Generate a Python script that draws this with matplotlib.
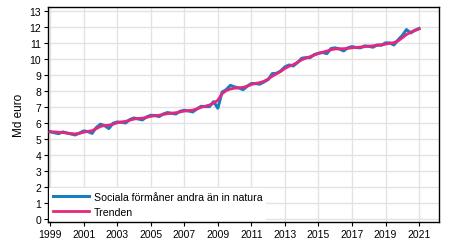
#!/usr/bin/env python3

import numpy as np
from matplotlib import pyplot as plt

plt.rcParams['font.family'] = ['Liberation Sans', 'DejaVu Sans']

# Quarterly values, 1999Q1 - 2021Q1 (Md euro)
first_year = 1999
benefits = [
    5.44, 5.37, 5.31, 5.42,   # 1999
    5.35, 5.29, 5.23, 5.35,   # 2000
    5.48, 5.44, 5.33, 5.69,   # 2001
    5.90, 5.81, 5.63, 5.96,   # 2002
    6.04, 6.02, 5.98, 6.19,   # 2003
    6.29, 6.23, 6.17, 6.35,   # 2004
    6.46, 6.44, 6.38, 6.54,   # 2005
    6.63, 6.58, 6.54, 6.71,   # 2006
    6.77, 6.73, 6.67, 6.85,   # 2007
    7.02, 7.00, 7.00, 7.31,   # 2008
    6.90, 7.90, 8.06, 8.33,   # 2009
    8.23, 8.17, 8.06, 8.27,   # 2010
    8.44, 8.44, 8.40, 8.54,   # 2011
    8.69, 9.06, 9.08, 9.23,   # 2012
    9.48, 9.60, 9.54, 9.75,   # 2013
    10.02, 10.06, 10.06, 10.25,  # 2014
    10.33, 10.38, 10.31, 10.63,  # 2015
    10.67, 10.60, 10.48, 10.67,  # 2016
    10.75, 10.69, 10.67, 10.79,  # 2017
    10.77, 10.71, 10.85, 10.83,  # 2018
    10.98, 10.98, 10.85, 11.17,  # 2019
    11.44, 11.81, 11.60, 11.77,  # 2020
    11.88,                       # 2021
]
trend = [
    5.42, 5.42, 5.40, 5.38,
    5.35, 5.31, 5.30, 5.33,
    5.40, 5.45, 5.50, 5.62,
    5.76, 5.82, 5.84, 5.90,
    5.99, 6.04, 6.08, 6.15,
    6.22, 6.26, 6.28, 6.33,
    6.39, 6.43, 6.46, 6.51,
    6.56, 6.59, 6.62, 6.67,
    6.72, 6.75, 6.78, 6.86,
    6.95, 7.03, 7.10, 7.22,
    7.40, 7.80, 8.00, 8.10,
    8.15, 8.17, 8.20, 8.28,
    8.38, 8.45, 8.50, 8.58,
    8.72, 8.90, 9.05, 9.20,
    9.38, 9.52, 9.62, 9.77,
    9.92, 10.03, 10.12, 10.22,
    10.32, 10.40, 10.47, 10.55,
    10.60, 10.61, 10.62, 10.64,
    10.67, 10.70, 10.72, 10.74,
    10.77, 10.80, 10.83, 10.86,
    10.90, 10.95, 11.00, 11.10,
    11.30, 11.50, 11.65, 11.75,
    11.85,
]
labels = ['Sociala förmåner andra än in natura', 'Trenden']
xticks = list(range(1999, 2022, 2))

x = first_year + np.arange(len(benefits)) / 4

fig = plt.figure(figsize=(4.54, 2.53), dpi=100)
ax = fig.add_axes([0.106, 0.119, 0.861, 0.848])

ax.plot(x, benefits, color='#1a7dbf', linewidth=2.2, label=labels[0], zorder=3)
ax.plot(x, trend, color='#e5287f', linewidth=2.0, label=labels[1], zorder=4)

ax.set_xlim(1998.88, 2022.19)
ax.set_ylim(-0.2, 13.2)
ax.set_xticks(xticks)
ax.set_yticks(range(0, 14))
ax.grid(color='#e3e3e3', linewidth=1.0)
ax.set_axisbelow(True)
ax.tick_params(labelsize=7.5, length=3, width=0.8, pad=2)
for s in ax.spines.values():
    s.set_linewidth(1.0)

ax.set_ylabel('Md euro', fontsize=8.5, labelpad=3)

leg = ax.legend(loc='lower left', fontsize=7.6, frameon=True, fancybox=False,
                edgecolor='none', framealpha=1.0, handlelength=3.4,
                handletextpad=0.4, labelspacing=0.45, borderpad=0.4,
                borderaxespad=0.1)

plt.savefig('out.png', dpi=100)
